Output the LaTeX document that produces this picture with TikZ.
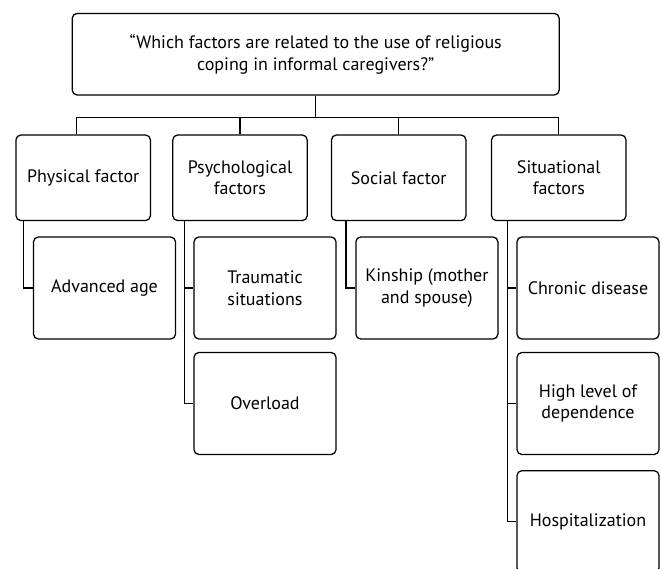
\documentclass[tikz,border=0pt]{standalone}
\usepackage{fontspec}
\setmainfont{PT Sans}
\usepackage{tikz}
\usetikzlibrary{positioning}
\tikzset{box/.style={draw, rounded corners=3.5pt, line width=0.9pt, align=center, inner sep=0pt,
    font=\fontsize{12.8}{15.4}\selectfont},
  topbox/.style={box, minimum width=12.17cm, minimum height=2.04cm},
  headbox/.style={box, minimum width=3.36cm, minimum height=2.14cm},
  leafbox/.style={box, minimum width=3.55cm, minimum height=2.55cm}}
\newcommand{\kid}[2]{\draw[line width=0.9pt] ([xshift=-0.23cm]#2.west |- #1.south) |- (#2.west);}

\begin{document}
\begin{tikzpicture}[x=0.025cm,y=-0.025cm]
\useasboundingbox (0,0) rectangle (662,569);
\clip (0,0) rectangle (662,569);
\node[topbox] (top) at (315.7,54.2) {“Which factors are related to the use of religious\\coping in informal caregivers?”};
\node[headbox] (phys) at (83.2,177.8) {Physical factor};
\node[headbox] (psy) at (240,177.8) {Psychological\\factors};
\node[headbox] (soc) at (398.7,177.8) {Social factor};
\node[headbox] (sit) at (558.8,177.8) {Situational\\factors};
\node[leafbox] (age) at (104.5,288) {Advanced age};
\node[leafbox] (trauma) at (265,288) {Traumatic\\situations};
\node[leafbox] (over) at (265,403.5) {Overload};
\node[leafbox] (kin) at (426.9,288) {Kinship (mother\\and spouse)};
\node[leafbox] (chron) at (588,288) {Chronic disease};
\node[leafbox] (high) at (588,403.5) {High level of\\dependence};
\node[leafbox] (hosp) at (588,521.7) {Hospitalization};
\coordinate (bar) at (315.7,117.3);
\draw[line width=0.9pt] (top.south) -- (bar);
\draw[line width=0.9pt] ([xshift=-0.17cm]phys.north) |- (sit.north |- bar) -- (sit.north);
\draw[line width=0.9pt] (psy.north) -- (psy.north |- bar);
\draw[line width=0.9pt] (soc.north) -- (soc.north |- bar);
\kid{phys}{age}
\kid{psy}{trauma}
\kid{psy}{over}
\kid{soc}{kin}
\kid{sit}{chron}
\kid{sit}{high}
\kid{sit}{hosp}
\end{tikzpicture}
\end{document}
